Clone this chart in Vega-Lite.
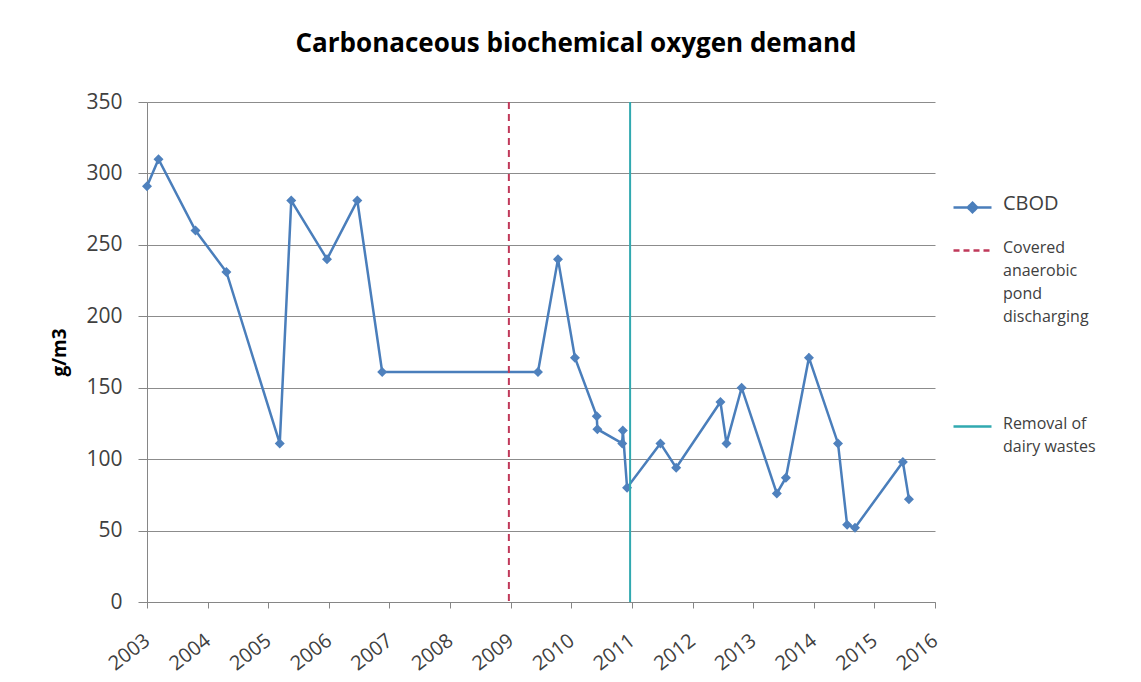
{
  "$schema": "https://vega.github.io/schema/vega-lite/v6.json",
  "width": 788,
  "height": 500,
  "autosize": "none",
  "padding": {"left": 147, "top": 102, "right": 206, "bottom": 80},
  "background": "white",
  "title": {
    "text": "Carbonaceous biochemical oxygen demand",
    "font": "Open Sans",
    "fontSize": 26,
    "fontWeight": "bold",
    "color": "#000000",
    "anchor": "middle",
    "dx": 35,
    "offset": 34
  },
  "datasets": {
    "cbod": [
      {"year": 2003.00, "value": 291, "series": "CBOD"},
      {"year": 2003.19, "value": 310, "series": "CBOD"},
      {"year": 2003.80, "value": 260, "series": "CBOD"},
      {"year": 2004.31, "value": 231, "series": "CBOD"},
      {"year": 2005.19, "value": 111, "series": "CBOD"},
      {"year": 2005.38, "value": 281, "series": "CBOD"},
      {"year": 2005.97, "value": 240, "series": "CBOD"},
      {"year": 2006.47, "value": 281, "series": "CBOD"},
      {"year": 2006.88, "value": 161, "series": "CBOD"},
      {"year": 2009.45, "value": 161, "series": "CBOD"},
      {"year": 2009.78, "value": 240, "series": "CBOD"},
      {"year": 2010.06, "value": 171, "series": "CBOD"},
      {"year": 2010.42, "value": 130, "series": "CBOD"},
      {"year": 2010.43, "value": 121, "series": "CBOD"},
      {"year": 2010.84, "value": 111, "series": "CBOD"},
      {"year": 2010.85, "value": 120, "series": "CBOD"},
      {"year": 2010.92, "value": 80, "series": "CBOD"},
      {"year": 2011.47, "value": 111, "series": "CBOD"},
      {"year": 2011.73, "value": 94, "series": "CBOD"},
      {"year": 2012.46, "value": 140, "series": "CBOD"},
      {"year": 2012.56, "value": 111, "series": "CBOD"},
      {"year": 2012.81, "value": 150, "series": "CBOD"},
      {"year": 2013.39, "value": 76, "series": "CBOD"},
      {"year": 2013.54, "value": 87, "series": "CBOD"},
      {"year": 2013.92, "value": 171, "series": "CBOD"},
      {"year": 2014.40, "value": 111, "series": "CBOD"},
      {"year": 2014.55, "value": 54, "series": "CBOD"},
      {"year": 2014.68, "value": 52, "series": "CBOD"},
      {"year": 2015.47, "value": 98, "series": "CBOD"},
      {"year": 2015.57, "value": 72, "series": "CBOD"}
    ],
    "events": [
      {"year": 2008.97, "series": "Covered anaerobic pond discharging"},
      {"year": 2010.97, "series": "Removal of dairy wastes"}
    ]
  },
  "encoding": {
    "x": {
      "field": "year",
      "type": "quantitative",
      "scale": {"domain": [2003, 2016], "nice": false, "zero": false},
      "axis": {
        "title": null,
        "values": [2003, 2004, 2005, 2006, 2007, 2008, 2009, 2010, 2011, 2012, 2013, 2014, 2015, 2016],
        "format": "d",
        "grid": false,
        "labelAngle": -38,
        "labelFont": "Open Sans",
        "labelFontSize": 20,
        "labelColor": "#404040",
        "labelPadding": 22,
        "labelOffset": -6,
        "tickSize": 6,
        "tickColor": "#868686",
        "domainColor": "#868686",
        "labelOverlap": false
      }
    }
  },
  "layer": [
    {
      "data": {"name": "cbod"},
      "mark": {"type": "line", "strokeWidth": 2.5, "interpolate": "linear"},
      "encoding": {
        "y": {
          "field": "value",
          "type": "quantitative",
          "scale": {"domain": [0, 350], "nice": false},
          "axis": {
            "title": "g/m3",
            "titleFont": "Open Sans",
            "titleFontSize": 19,
            "titleFontWeight": "bold",
            "titleColor": "#000000",
            "titlePadding": 16,
            "values": [0, 50, 100, 150, 200, 250, 300, 350],
            "labelFont": "Open Sans",
            "labelFontSize": 21,
            "labelColor": "#404040",
            "labelPadding": 16,
            "tickSize": 9,
            "tickColor": "#868686",
            "domainColor": "#868686",
            "grid": true,
            "gridColor": "#8c8c8c",
            "gridWidth": 1
          }
        },
        "color": {
          "field": "series",
          "type": "nominal",
          "scale": {
            "domain": ["CBOD", "Covered anaerobic pond discharging", "Removal of dairy wastes"],
            "range": ["#4a7ebb", "#c0395a", "#31a9b0"]
          },
          "legend": {
            "orient": "none",
            "legendX": 805,
            "legendY": 85,
            "title": null,
            "padding": 0,
            "symbolSize": 1444,
            "symbolStrokeWidth": 2.5,
            "rowPadding": 12,
            "labelFont": "Open Sans",
            "labelFontSize": 16,
            "labelColor": "#404040",
            "labelOffset": 10,
            "labelLimit": 250,
            "labelExpr": "datum.label == 'Covered anaerobic pond discharging' ? ['Covered', 'anaerobic', 'pond', 'discharging', ' ', ' ', ' '] : datum.label == 'Removal of dairy wastes' ? ['Removal of', 'dairy wastes'] : datum.label",
            "encode": {
              "symbols": {
                "update": {
                  "shape": {"signal": "datum.value == 'CBOD' ? 'M-1,0H1M0,-0.25L0.25,0L0,0.25L-0.25,0Z' : 'stroke'"},
                  "fill": {"signal": "datum.value == 'CBOD' ? '#4f81bd' : 'transparent'"},
                  "strokeDash": {"signal": "datum.value == 'Covered anaerobic pond discharging' ? [6, 4] : [1, 0]"}
                }
              },
              "labels": {
                "update": {
                  "fontSize": {"signal": "datum.value == 'CBOD' ? 20 : 16"},
                  "lineHeight": {"value": 23},
                  "baseline": {"value": "top"},
                  "dy": {"signal": "datum.value == 'CBOD' ? -14 : -11"}
                }
              }
            }
          }
        }
      }
    },
    {
      "data": {"name": "cbod"},
      "mark": {"type": "point", "shape": "diamond", "filled": true, "opacity": 1, "size": 100, "color": "#4f81bd"},
      "encoding": {
        "y": {"field": "value", "type": "quantitative"}
      }
    },
    {
      "data": {"name": "events"},
      "mark": {"type": "rule", "strokeWidth": 2},
      "encoding": {
        "color": {"field": "series", "type": "nominal"},
        "strokeDash": {
          "field": "series",
          "type": "nominal",
          "scale": {
            "domain": ["Covered anaerobic pond discharging", "Removal of dairy wastes"],
            "range": [[7, 5], [1, 0]]
          },
          "legend": null
        }
      }
    }
  ],
  "config": {
    "view": {"stroke": null},
    "font": "Open Sans"
  }
}
